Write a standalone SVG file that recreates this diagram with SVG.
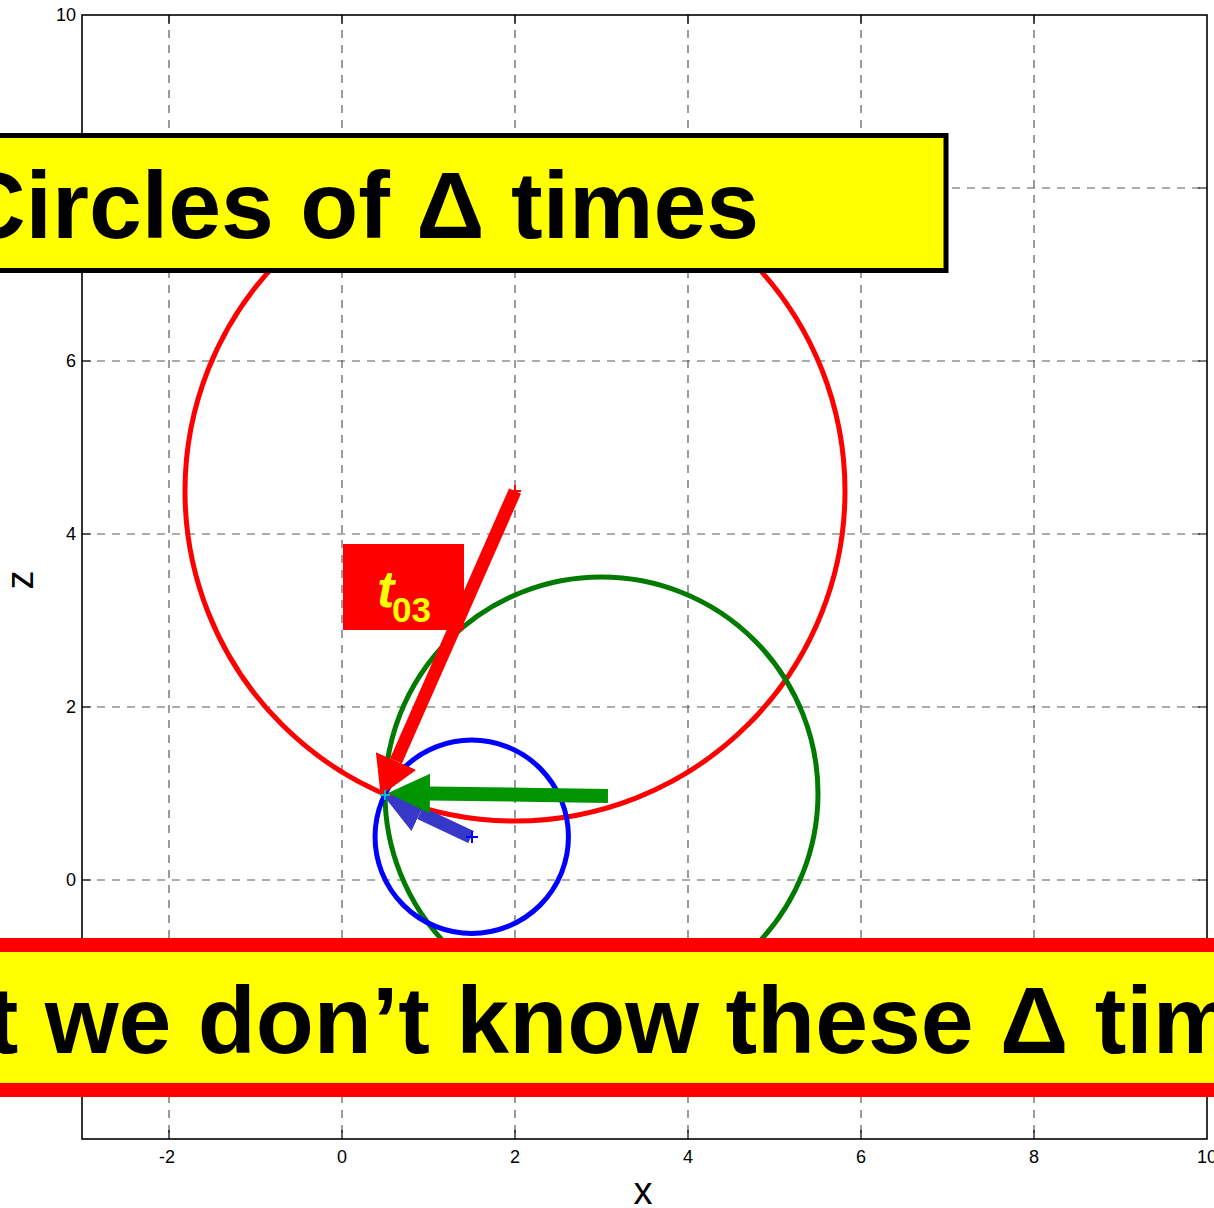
<svg xmlns="http://www.w3.org/2000/svg" width="1214" height="1208" viewBox="0 0 1214 1208">
<style>
.grid{stroke:#5a5a5a;stroke-width:1.2;stroke-dasharray:8 7;fill:none}
.axis{stroke:#000;stroke-width:1.6;fill:none}
.tick{stroke:#000;stroke-width:1.2}
.tl{font-family:"Liberation Sans",Arial,sans-serif;font-size:18px;fill:#000}
.al{font-family:"Liberation Sans",Arial,sans-serif;font-size:38px;fill:#000}
.big{font-family:"Liberation Sans",Arial,sans-serif;font-weight:bold;font-size:95px;fill:#000}
.circ{fill:none;stroke-width:5}
.plus{stroke-width:2;fill:none}
</style>
<defs>
<marker id="hRed" markerUnits="userSpaceOnUse" orient="auto" markerWidth="38" markerHeight="44" viewBox="0 -22 38 44" refX="0" refY="0"><path d="M0,-22 L38,0 L0,22 Z" fill="#ff0000"/></marker>
<marker id="hGreen" markerUnits="userSpaceOnUse" orient="auto" markerWidth="42" markerHeight="40" viewBox="0 -20 42 40" refX="0" refY="0"><path d="M0,-20 L42,0 L0,20 Z" fill="#009400"/></marker>
<marker id="hBlue" markerUnits="userSpaceOnUse" orient="auto" markerWidth="40" markerHeight="40" viewBox="0 -20 40 40" refX="0" refY="0"><path d="M0,-20 L40,0 L0,20 Z" fill="#3737c8"/></marker>
</defs>
<rect x="0" y="0" width="1214" height="1208" fill="#fff"/>
<g id="grid">
<line class="grid" x1="169" y1="15" x2="169" y2="1139"/>
<line class="grid" x1="342" y1="15" x2="342" y2="1139"/>
<line class="grid" x1="515" y1="15" x2="515" y2="1139"/>
<line class="grid" x1="688" y1="15" x2="688" y2="1139"/>
<line class="grid" x1="861" y1="15" x2="861" y2="1139"/>
<line class="grid" x1="1034" y1="15" x2="1034" y2="1139"/>
<line class="grid" x1="82" y1="188" x2="1207" y2="188"/>
<line class="grid" x1="82" y1="361" x2="1207" y2="361"/>
<line class="grid" x1="82" y1="534" x2="1207" y2="534"/>
<line class="grid" x1="82" y1="707" x2="1207" y2="707"/>
<line class="grid" x1="82" y1="880" x2="1207" y2="880"/>
<line class="grid" x1="82" y1="966.5" x2="1207" y2="966.5"/>
</g>
<g id="axes">
<rect class="axis" x="82" y="15" width="1125" height="1124"/>
<path class="tick" d="M169,1139v-9M342,1139v-9M515,1139v-9M688,1139v-9M861,1139v-9M1034,1139v-9M169,15v9M342,15v9M515,15v9M688,15v9M861,15v9M1034,15v9M82,188h9M82,361h9M82,534h9M82,707h9M82,880h9M82,966.5h9M1207,188h-9M1207,361h-9M1207,534h-9M1207,707h-9M1207,880h-9M1207,966.5h-9"/>
<g class="tl" text-anchor="middle">
<text x="167" y="1163">-2</text>
<text x="342" y="1163">0</text>
<text x="515" y="1163">2</text>
<text x="688" y="1163">4</text>
<text x="861" y="1163">6</text>
<text x="1034" y="1163">8</text>
<text x="1207" y="1163">10</text>
</g>
<g class="tl" text-anchor="end">
<text x="76" y="21">10</text>
<text x="76" y="367">6</text>
<text x="76" y="540">4</text>
<text x="76" y="713">2</text>
<text x="76" y="886">0</text>
</g>
<text class="al" x="643" y="1204" text-anchor="middle">x</text>
<text class="al" transform="translate(33,580) rotate(-90)" text-anchor="middle">z</text>
</g>
<g id="circle-red"><circle class="circ" cx="515" cy="491" r="330" stroke="#ff0000"/></g>
<g id="circle-green"><circle class="circ" cx="601.5" cy="793.5" r="216.5" stroke="#007a00"/></g>
<g id="circle-blue"><circle class="circ" cx="471.75" cy="836.75" r="96.7" stroke="#0000ff"/></g>
<g id="label-t03">
<rect x="343" y="544" width="121" height="86" fill="#ff0000"/>
<text x="377" y="607" font-family="Liberation Sans,Arial,sans-serif" font-weight="bold" fill="#ffff00"><tspan font-style="italic" font-size="52">t</tspan><tspan font-size="35" x="392" y="622">03</tspan></text>
</g>
<g id="connectors">
<line x1="471" y1="837" x2="420" y2="813" stroke="#3737c8" stroke-width="13" marker-end="url(#hBlue)"/>
<line x1="608" y1="796" x2="430" y2="793.5" stroke="#009400" stroke-width="14" marker-end="url(#hGreen)"/>
<line x1="515" y1="491" x2="396" y2="761" stroke="#ff0000" stroke-width="13" marker-end="url(#hRed)"/>
</g>
<g id="markers">
<path class="plus" stroke="#ff0000" d="M509,491h12M515,485v12"/>
<path class="plus" stroke="#0000ff" d="M466,837h12M472,831v12"/>
<path class="plus" stroke="#00c0c0" d="M380,795h10M385,790v10"/>
</g>
<g id="banner-top">
<rect x="-10" y="135.5" width="956" height="135" fill="#ffff00" stroke="#000" stroke-width="5"/>
<text class="big" x="-43" y="238">Circles of Δ times</text>
</g>
<g id="banner-bottom">
<rect x="-20" y="945" width="1254" height="145" fill="#ffff00" stroke="#ff0000" stroke-width="14"/>
<text class="big" x="-140" y="1053">But we don’t know these Δ times</text>
</g>
</svg>
